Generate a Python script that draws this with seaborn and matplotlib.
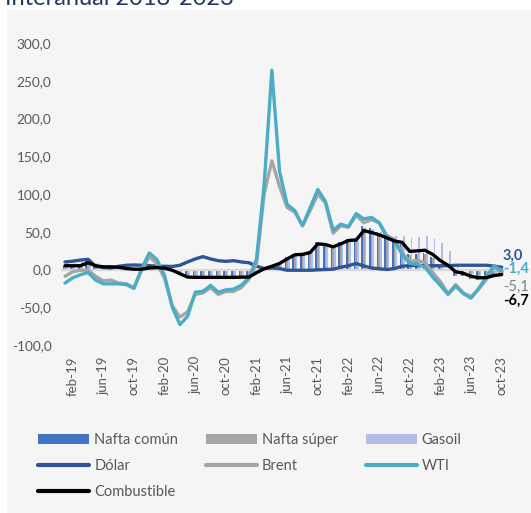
import numpy as np
import pandas as pd
import matplotlib
matplotlib.use("Agg")
import matplotlib.pyplot as plt
import seaborn as sns
from matplotlib.patches import Rectangle, Patch
from matplotlib.lines import Line2D

# ---------------- data ----------------
fechas = ["ene-19", "feb-19", "mar-19", "abr-19", "may-19", "jun-19", "jul-19", "ago-19", "sep-19", "oct-19", "nov-19", "dic-19",
          "ene-20", "feb-20", "mar-20", "abr-20", "may-20", "jun-20", "jul-20", "ago-20", "sep-20", "oct-20", "nov-20", "dic-20",
          "ene-21", "feb-21", "mar-21", "abr-21", "may-21", "jun-21", "jul-21", "ago-21", "sep-21", "oct-21", "nov-21", "dic-21",
          "ene-22", "feb-22", "mar-22", "abr-22", "may-22", "jun-22", "jul-22", "ago-22", "sep-22", "oct-22", "nov-22", "dic-22",
          "ene-23", "feb-23", "mar-23", "abr-23", "may-23", "jun-23", "jul-23", "ago-23", "sep-23", "oct-23"]

tick_labels = ["feb-19", "jun-19", "oct-19", "feb-20", "jun-20", "oct-20", "feb-21", "jun-21",
               "oct-21", "feb-22", "jun-22", "oct-22", "feb-23", "jun-23", "oct-23"]

nafta_comun = [4, 4, 6, 12, 6, 5, 6, 5, 2, 1, 1, 3,
               3, 3, 0, -6, -10, -11, -11, -11, -11, -11, -11, -11,
               -11, -5, 1, 5, 9, 16, 21, 21, 24, 36, 35, 31,
               36, 41, 42, 58, 55, 50, 44, 38, 34, 20, 21, 22,
               16, 7, 0, -8, -9, -12, -14, -13, -10, -7]
nafta_super = [3, 3, 5, 8, 4, 3, 4, 3, 1, 0, 0, 1,
               2, 2, -1, -5, -9, -10, -10, -10, -10, -10, -10, -10,
               -10, -4, 1, 4, 8, 14, 19, 20, 23, 34, 33, 30,
               35, 39, 40, 55, 52, 48, 42, 36, 32, 19, 20, 21,
               15, 6, -1, -8, -9, -12, -13, -12, -9, -7]
gasoil = [8, 9, 10, 14, 8, 5, 5, 4, 2, 2, 1, 3,
          4, 3, -1, -5, -9, -10, -10, -10, -10, -9, -9, -9,
          -8, -3, 2, 5, 8, 13, 19, 20, 23, 33, 32, 29,
          33, 37, 38, 56, 53, 50, 47, 45, 44, 42, 43, 44,
          40, 35, 25, 5, -2, -6, -9, -8, -7, -5]

dolar = [10, 11, 12.5, 13.5, 4.3, 2.6, 2, 4.3, 5.6, 6, 5.6, 5.2,
         4.3, 4.3, 4, 5.6, 10, 14, 17, 14, 11.7, 10.8, 11.7, 10,
         9, 4.3, 1.3, 2, 1.3, -1, -1, -1, -1, -0.5, 0, 0.4,
         3, 5, 8, 4.8, 2, 1, 0, 1.3, 4.3, 5.2, 5.2, 5,
         5, 5, 5, 5.6, 5.6, 5.6, 5.6, 5.6, 4.5, 3.0]
brent = [-9, -3, -1, -1, -9, -15, -14, -18, -19, -24, -1, 17,
         8, -12, -48, -63, -56, -33, -31, -24, -33, -29, -29, -24,
         -13, 8, 100, 144, 110, 82, 76, 58, 78, 100, 88, 48,
         58, 56, 72, 62, 66, 62, 45, 40, 22, 11, 12, 9,
         -4, -16, -32, -20, -31, -36, -26, -13, 3, -5.1]
wti = [-18, -11, -7, -4, -14, -19, -19, -19, -20, -25, 1, 22,
       13, -8, -50, -73, -62, -30, -29, -21, -30, -27, -26, -21,
       -11, 14, 113, 264, 130, 86, 78, 58, 82, 106, 90, 52,
       60, 57, 74, 67, 69, 62, 43, 38, 20, 8, 7, 3,
       -10, -21, -33, -22, -32, -38, -25, -10, 5, -1.4]
combustible = [5, 5, 5, 9, 5, 3.5, 3.5, 3, 1.3, 0.4, 0.4, 2,
               2.6, 1.7, -1, -5.6, -10, -10.4, -10.4, -10.4, -10.4, -10.4, -10.4, -10.2,
               -10, -4.3, 1, 4.3, 8, 14, 19.5, 20, 22.5, 34, 33, 30,
               34, 38.5, 39, 51.5, 49, 46, 42, 37.7, 36, 24, 24.7, 25.5,
               20, 11.7, 5.6, -3, -5, -9, -11, -10.8, -8, -6.7]

bar_series = ["Nafta común", "Nafta súper", "Gasoil"]
line_series = ["Dólar", "Brent", "WTI", "Combustible"]
end_labels = {"Dólar": "3,0", "WTI": "-1,4", "Brent": "-5,1", "Combustible": "-6,7"}

# ---------------- styles ----------------
bar_colors = {"Nafta común": "#4472C4", "Nafta súper": "#A5A5A5", "Gasoil": "#B4BDE8"}
line_colors = {"Dólar": "#2F5597", "Brent": "#A5A5A5", "WTI": "#4BACC6", "Combustible": "#000000"}
text_gray = "#595959"

dfb = pd.DataFrame({
    "fecha": fechas * 3,
    "serie": [s for s in bar_series for _ in fechas],
    "valor": nafta_comun + nafta_super + gasoil,
})
idx = list(range(len(fechas)))
dfl = pd.DataFrame({
    "idx": idx * 4,
    "serie": [s for s in line_series for _ in fechas],
    "valor": dolar + brent + wti + combustible,
})

sns.set_theme(style="white")
plt.rcParams["font.family"] = ["Lato", "DejaVu Sans"]

W, H = 531, 513
fig = plt.figure(figsize=(W / 100, H / 100), dpi=100)
fig.patch.set_facecolor("white")
fig.add_artist(Rectangle((7 / W, 0), 1 - 7 / W, (H - 10) / H, transform=fig.transFigure,
                         facecolor="#F5F5F5", edgecolor="none", zorder=0))
fig.text(5 / W, 1 - 5 / H, "Interanual 2018-2023", color="#1F3864", fontsize=17,
         ha="left", va="baseline")

ax = fig.add_axes([61.2 / W, 1 - 345 / H, 444.3 / W, 302 / H])
ax.set_facecolor("none")

sns.barplot(data=dfb, x="fecha", y="valor", hue="serie", order=fechas, hue_order=bar_series,
            palette=bar_colors, width=0.66, dodge=True, errorbar=None, saturation=1,
            linewidth=0, legend=False, ax=ax)
ax.axhline(0, color="#D9D9D9", lw=1.6, zorder=1.5)
sns.lineplot(data=dfl, x="idx", y="valor", hue="serie", hue_order=line_series,
             palette=line_colors, lw=2.4, legend=False, ax=ax, sort=False, zorder=3)

ax.set_xlim(-0.5, len(fechas) - 0.5)
ax.set_ylim(-100, 300)
ax.set_xticks([fechas.index(t) for t in tick_labels])
ax.set_xticklabels(tick_labels, rotation=90, color=text_gray, fontsize=9.5)
yt = [-100, -50, 0, 50, 100, 150, 200, 250, 300]
ax.set_yticks(yt)
ax.set_yticklabels([f"{v:.1f}".replace(".", ",") for v in yt], color=text_gray, fontsize=9.8)
ax.tick_params(axis="x", length=0, pad=8)
ax.tick_params(axis="y", length=0, pad=7)
ax.set_xlabel("")
ax.set_ylabel("")
for sp in ax.spines.values():
    sp.set_visible(False)

# end labels
last = len(fechas) - 1
offsets = {"Dólar": 11, "WTI": 1.5, "Brent": -14, "Combustible": -26}
finals = {"Dólar": dolar[-1], "WTI": wti[-1], "Brent": brent[-1], "Combustible": combustible[-1]}
for s in line_series:
    ax.annotate(end_labels[s], xy=(last, finals[s]), xytext=(1, offsets[s]),
                textcoords="offset pixels", ha="left", va="center", fontsize=10.5,
                fontweight="normal" if s == "Brent" else "bold",
                color=line_colors[s] if s != "Brent" else "#7F7F7F", annotation_clip=False)

# legend (column-major fill -> row-major look)
hb = {s: Patch(facecolor=bar_colors[s], edgecolor="none") for s in bar_series}
hl = {s: Line2D([0], [0], color=line_colors[s], lw=3) for s in line_series}
order = [("Nafta común", hb), ("Dólar", hl), ("Combustible", hl),
         ("Nafta súper", hb), ("Brent", hl), ("Gasoil", hb), ("WTI", hl)]
leg = fig.legend([d[s] for s, d in order], [s for s, _ in order], ncol=3, loc="upper left",
                 bbox_to_anchor=(38 / W, 1 - 433 / H), frameon=False, fontsize=10.5,
                 handlelength=3.5, handletextpad=0.35, columnspacing=1.9, labelspacing=0.84,
                 borderpad=0, borderaxespad=0)
for t in leg.get_texts():
    t.set_color(text_gray)

fig.savefig("out.png", dpi=100, facecolor=fig.get_facecolor())
